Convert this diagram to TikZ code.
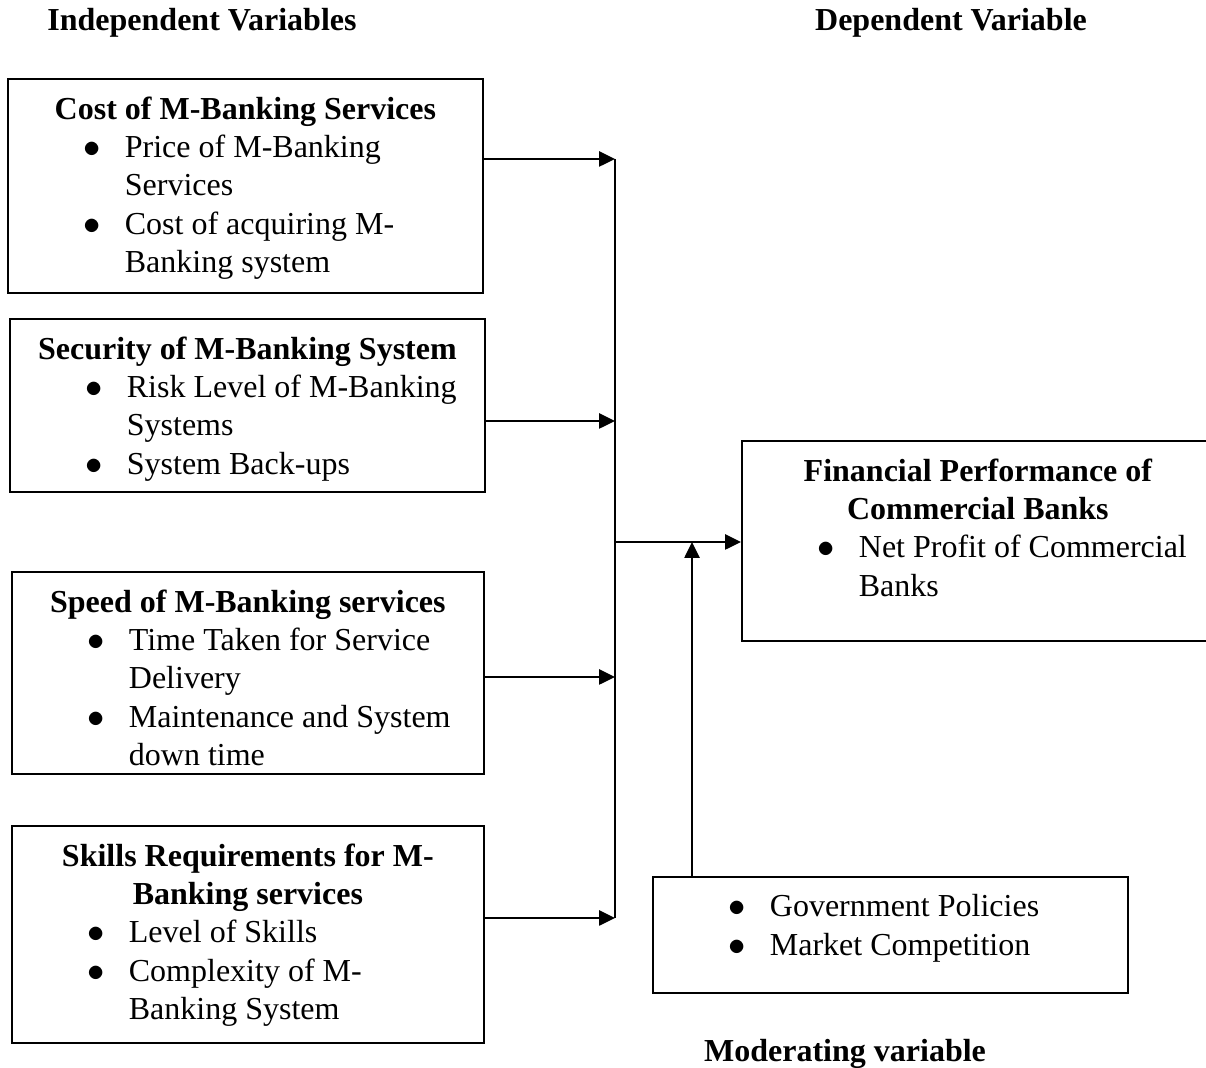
\documentclass[tikz,border=0pt]{standalone}
\usepackage{fontspec}
\setmainfont{Liberation Serif}
\usetikzlibrary{arrows.meta,positioning}

\newcommand{\boxbody}[3]{\parbox[c][#2][t]{#1}{#3}}
\newcommand{\btitle}[1]{{\centering\bfseries #1\par}}
\newcommand{\bitem}[1]{\hspace*{38pt}\makebox[20.5pt][l]{$\bullet$}#1\par}
\newcommand{\bmore}[1]{\hspace*{58.5pt}#1\par}

\begin{document}
\begin{tikzpicture}[x=0.5pt,y=-0.5pt]
        \tikzstyle{varbox}=[draw=black,line width=0.9pt,inner xsep=0pt,inner ysep=8.8pt,anchor=north west,font=\fontsize{16}{19.2}\selectfont]
        \tikzstyle{head}=[inner sep=0pt,font=\fontsize{16}{19.2}\selectfont\bfseries]
        \tikzstyle{link}=[draw,line width=1.3pt,-{Triangle[length=8pt,width=7.5pt]}]
        \useasboundingbox (0,0) rectangle (1206,1068);

        % headings
        \node [head] (indep) at (202,23) {Independent Variables};
        \node [head] (dep) at (951,23) {Dependent Variable};
        \node [head] (moder) at (845,1054) {Moderating variable};

        % independent variables
        \node [varbox] (cost) at (7,78) {\boxbody{237.5pt}{89.4pt}{%
          \btitle{Cost of M-Banking Services}
          \bitem{Price of M-Banking}
          \bmore{Services}
          \bitem{Cost of acquiring M-}
          \bmore{Banking system}}};
        \node [varbox] (secu) at (9,318) {\boxbody{237.5pt}{68.9pt}{%
          \btitle{Security of M-Banking System}
          \bitem{Risk Level of M-Banking}
          \bmore{Systems}
          \bitem{System Back-ups}}};
        \node [varbox] (speed) at (11,571) {\boxbody{236pt}{83.4pt}{%
          \btitle{Speed of M-Banking services}
          \bitem{Time Taken for Service}
          \bmore{Delivery}
          \bitem{Maintenance and System}
          \bmore{down time}}};
        \node [varbox] (skill) at (11,825) {\boxbody{236pt}{90.9pt}{%
          \btitle{Skills Requirements for M-}
          \btitle{Banking services}
          \bitem{Level of Skills}
          \bitem{Complexity of M-}
          \bmore{Banking System}}};

        % dependent and moderating variables
        \node [varbox] (perf) at (741,440) {\boxbody{236pt}{82.4pt}{%
          \btitle{Financial Performance of}
          \btitle{Commercial Banks}
          \bitem{Net Profit of Commercial}
          \bmore{Banks}}};
        \node [varbox] (mod) at (652,876) {\boxbody{237.5pt}{40.4pt}{%
          \bitem{Government Policies}
          \bitem{Market Competition}}};

        % connectors
        \coordinate (j1) at (615,159);
        \coordinate (j2) at (615,421);
        \coordinate (j3) at (615,677);
        \coordinate (j4) at (615,918);
        \coordinate (hub) at (615,542);
        \coordinate (mtop) at (692,542);

        \path[link] (cost.east |- j1) -- (j1);
        \path[link] (secu.east |- j2) -- (j2);
        \path[link] (speed.east |- j3) -- (j3);
        \path[link] (skill.east |- j4) -- (j4);
        \draw[line width=1.3pt] (j1) -- (j4);
        \path[link] (hub) -- (perf.west |- hub);
        \path[link] (mod.north -| mtop) -- (mtop);
\end{tikzpicture}
\end{document}
